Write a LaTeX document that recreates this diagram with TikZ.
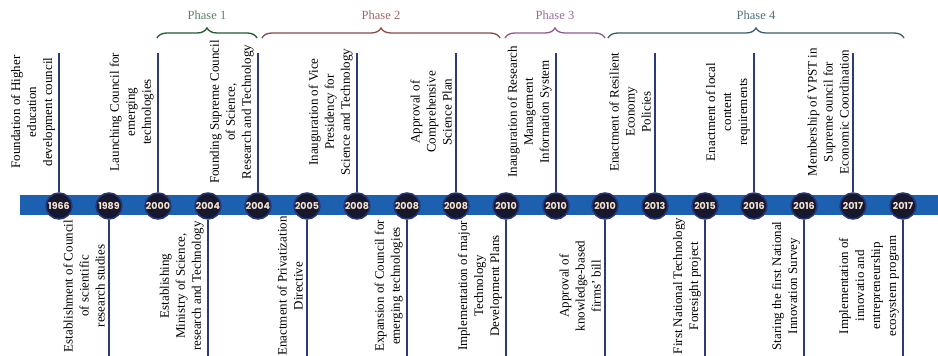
\documentclass[tikz,border=0pt]{standalone}
\usepackage{fontspec}
\setmainfont{Liberation Serif}
\newfontfamily\yearfont{Poppins}
\usetikzlibrary{decorations.pathreplacing}

\definecolor{barblue}{HTML}{1C60B0}
\definecolor{circfill}{HTML}{17172E}
\definecolor{circring}{HTML}{26377C}
\definecolor{stemblue}{HTML}{2C3A7A}
\definecolor{yeartext}{HTML}{F5E4D0}
\definecolor{phaseone}{HTML}{1F5A30}
\definecolor{phasetwo}{HTML}{8A4A48}
\definecolor{phasethree}{HTML}{8E5A8E}
\definecolor{phasefour}{HTML}{3C5E6C}

\begin{document}
\begin{tikzpicture}[x=1pt,y=1pt,
  yearball/.style={circle, minimum size=26pt, inner sep=0pt, fill=circfill,
    draw=circring, line width=1.5pt, text=yeartext,
    font=\yearfont\bfseries\fontsize{9.5}{10}\selectfont},
  stemline/.style={draw=stemblue, line width=2pt},
  eventtext/.style={rotate=90, anchor=south, align=center, inner sep=0pt,
    font=\fontsize{13}{16}\selectfont},
  phasebrace/.style={decorate, decoration={brace, amplitude=10pt}, line width=1.3pt},
  phasetext/.style={font=\fontsize{12.5}{14}\selectfont}]
  \useasboundingbox (0,0) rectangle (938,356);

  % Time bar
  \fill[barblue] (20,141) rectangle (938,161);

  % Years
  \node[yearball] (c1)  at (59,150)  {1966};
  \node[yearball] (c2)  at (109,150) {1989};
  \node[yearball] (c3)  at (158,150) {2000};
  \node[yearball] (c4)  at (208,150) {2004};
  \node[yearball] (c5)  at (258,150) {2004};
  \node[yearball] (c6)  at (307,150) {2005};
  \node[yearball] (c7)  at (357,150) {2008};
  \node[yearball] (c8)  at (407,150) {2008};
  \node[yearball] (c9)  at (456,150) {2008};
  \node[yearball] (c10) at (506,150) {2010};
  \node[yearball] (c11) at (556,150) {2010};
  \node[yearball] (c12) at (605,150) {2010};
  \node[yearball] (c13) at (655,150) {2013};
  \node[yearball] (c14) at (705,150) {2015};
  \node[yearball] (c15) at (754,150) {2016};
  \node[yearball] (c16) at (804,150) {2016};
  \node[yearball] (c17) at (853,150) {2017};
  \node[yearball] (c18) at (903,150) {2017};

  % Stem ends above the bar
  \coordinate (t1)  at (59,303);
  \coordinate (t3)  at (158,303);
  \coordinate (t5)  at (258,303);
  \coordinate (t7)  at (357,303);
  \coordinate (t9)  at (456,303);
  \coordinate (t11) at (556,303);
  \coordinate (t13) at (655,303);
  \coordinate (t15) at (754,303);
  \coordinate (t17) at (853,303);

  % Stem ends below the bar
  \coordinate (b2)  at (109,0);
  \coordinate (b4)  at (208,0);
  \coordinate (b6)  at (307,0);
  \coordinate (b8)  at (407,0);
  \coordinate (b10) at (506,0);
  \coordinate (b12) at (605,0);
  \coordinate (b14) at (705,0);
  \coordinate (b16) at (804,0);
  \coordinate (b18) at (903,0);

  % Stems
  \draw[stemline] (c1.north) -- (t1);
  \draw[stemline] (c3.north) -- (t3);
  \draw[stemline] (c5.north) -- (t5);
  \draw[stemline] (c7.north) -- (t7);
  \draw[stemline] (c9.north) -- (t9);
  \draw[stemline] (c11.north) -- (t11);
  \draw[stemline] (c13.north) -- (t13);
  \draw[stemline] (c15.north) -- (t15);
  \draw[stemline] (c17.north) -- (t17);
  \draw[stemline] (c2.south) -- (b2);
  \draw[stemline] (c4.south) -- (b4);
  \draw[stemline] (c6.south) -- (b6);
  \draw[stemline] (c8.south) -- (b8);
  \draw[stemline] (c10.south) -- (b10);
  \draw[stemline] (c12.south) -- (b12);
  \draw[stemline] (c14.south) -- (b14);
  \draw[stemline] (c16.south) -- (b16);
  \draw[stemline] (c18.south) -- (b18);

  % Events above the bar
  \node[eventtext] (e1)  at (55,244)  {Foundation of Higher\\education\\development council};
  \node[eventtext] (e3)  at (154,244) {Launching Council for\\emerging\\technologies};
  \node[eventtext] (e5)  at (254,244) {Founding Supreme Council\\of Science,\\Research and Technology};
  \node[eventtext] (e7)  at (353,244) {Inauguration of Vice\\Presidency for\\Science and Technology};
  \node[eventtext] (e9)  at (452,244) {Approval of\\Comprehensive\\Science Plan};
  \node[eventtext] (e11) at (552,244) {Inauguration of Research\\Management\\Information System};
  \node[eventtext] (e13) at (651,244) {Enactment of Resilient\\Economy\\Policies};
  \node[eventtext] (e15) at (750,244) {Enactment of local\\content\\requirements};
  \node[eventtext] (e17) at (849,244) {Membership of VPST in\\Supreme ouncil for\\Economic Coordination};

  % Events below the bar
  \node[eventtext] (e2)  at (105,70) {Establishment of Council\\of scientific\\research studies};
  \node[eventtext] (e4)  at (204,70) {Establishing\\Ministry of Science,\\research and Technology};
  \node[eventtext] (e6)  at (303,70) {Enactment of Privatization\\Directive};
  \node[eventtext] (e8)  at (403,70) {Expansion of Council for\\emerging technologies};
  \node[eventtext] (e10) at (502,70) {Implementation of major\\Technology\\Development Plans};
  \node[eventtext] (e12) at (601,70) {Approval of\\knowledge-based\\firms’ bill};
  \node[eventtext] (e14) at (701,70) {First National Technology\\Foresight project};
  \node[eventtext] (e16) at (800,70) {Staring the first National\\Innovation Survey};
  \node[eventtext] (e18) at (899,70) {Implementation of\\innovatio and\\entrepreneurship\\ecosystem program};

  % Phases
  \coordinate (p1a) at (157,318); \coordinate (p1b) at (257,318);
  \coordinate (p2a) at (262,318); \coordinate (p2b) at (500,318);
  \coordinate (p3a) at (505,318); \coordinate (p3b) at (605,318);
  \coordinate (p4a) at (608,318); \coordinate (p4b) at (904,318);
  \draw[phasebrace, phaseone]   (p1a) -- (p1b);
  \draw[phasebrace, phasetwo]   (p2a) -- (p2b);
  \draw[phasebrace, phasethree] (p3a) -- (p3b);
  \draw[phasebrace, phasefour]  (p4a) -- (p4b);
  \node[phasetext, text=phaseone!75!white]   (ph1) at (207,341) {Phase 1};
  \node[phasetext, text=phasetwo!85!white]   (ph2) at (381,341) {Phase 2};
  \node[phasetext, text=phasethree!90!white] (ph3) at (555,341) {Phase 3};
  \node[phasetext, text=phasefour!90!white]  (ph4) at (756,341) {Phase 4};

\end{tikzpicture}
\end{document}
